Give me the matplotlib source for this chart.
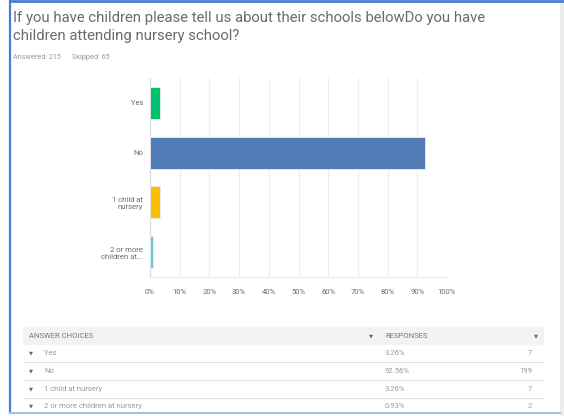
import matplotlib
matplotlib.use("Agg")
import matplotlib.pyplot as plt
from matplotlib.patches import Rectangle
from matplotlib.lines import Line2D

# data
choices = ["Yes", "No", "1 child at\nnursery", "2 or more\nchildren at..."]
full_choices = ["Yes", "No", "1 child at nursery", "2 or more children at nursery"]
percents = [3.26, 92.56, 3.26, 0.93]
counts = [7, 199, 7, 2]
bar_colors = ["#00bf6f", "#507cb6", "#f9be00", "#6bc8cd"]
xticks = [0, 10, 20, 30, 40, 50, 60, 70, 80, 90, 100]
answered = 215
skipped = 65

W, H = 564, 416
plt.rcParams['font.family'] = ['Roboto', 'DejaVu Sans']
fig = plt.figure(figsize=(W / 100, H / 100), dpi=100)
fig.patch.set_facecolor("white")

def px(x, y):
    # pixel coords (top-left origin) to figure fraction
    return x / W, 1 - y / H

txt_gray = "#6b6b6b"
light = "#9a9a9a"
small = 5.5

# frame
fig.add_artist(Line2D([10 / W, 10 / W], [1 - 413 / H, 1], color="#4a7bd0", lw=1.6, transform=fig.transFigure))
fig.add_artist(Line2D([10 / W, 1], [1 - 1 / H, 1 - 1 / H], color="#4a7bd0", lw=2.0, transform=fig.transFigure))
fig.add_artist(Line2D([10 / W, 560 / W], [1 - 413 / H, 1 - 413 / H], color="#a9bfe6", lw=1.5, transform=fig.transFigure))
fig.add_artist(Rectangle((560 / W, 0), 4 / W, 1, color="#ececec", transform=fig.transFigure))

# title
fig.text(*px(13, 22), "If you have children please tell us about their schools belowDo you have",
         fontsize=10.7, color=txt_gray, va="baseline")
fig.text(*px(13, 40), "children attending nursery school?", fontsize=10.7, color=txt_gray, va="baseline")
fig.text(*px(13, 59), f"Answered: {answered}", fontsize=5.2, color=light, va="baseline")
fig.text(*px(72, 59), f"Skipped: {skipped}", fontsize=5.2, color=light, va="baseline")

# bar chart
ax = fig.add_axes([150 / W, 1 - 277 / H, 297 / W, 199 / H])
ypos = list(range(len(choices)))
ax.barh(ypos, percents, height=0.64, color=bar_colors, edgecolor="#e8eef8", linewidth=0.6, zorder=3)
ax.set_xlim(0, 100)
ax.set_ylim(len(choices) - 0.5, -0.5)
ax.set_xticks(xticks)
ax.set_xticklabels([f"{t}%" for t in xticks])
ax.set_yticks(ypos)
ax.set_yticklabels(choices)
ax.grid(axis="x", color="#ececec", lw=0.8, zorder=0)
for s in ["top", "right"]:
    ax.spines[s].set_visible(False)
ax.spines["left"].set_color("#d9d9d9")
ax.spines["bottom"].set_color("#ececec")
ax.tick_params(length=0, labelsize=small, labelcolor=txt_gray, pad=5)
ax.tick_params(axis="x", pad=9)

# table
tx0, tx1 = 23, 543
fig.add_artist(Rectangle(px(tx0, 344), (377 - tx0) / W, 17 / H, color="#f3f3f3", transform=fig.transFigure))
fig.add_artist(Rectangle(px(378, 344), (tx1 - 378) / W, 17 / H, color="#f3f3f3", transform=fig.transFigure))
fig.text(*px(29, 336), "ANSWER CHOICES", fontsize=small, color="#777777", va="center")
fig.text(*px(385, 336), "RESPONSES", fontsize=small, color="#777777", va="center")
for xx in [371, 536]:
    fig.text(*px(xx, 336), "▼", fontsize=3.8, color="#666666", va="center", ha="center", family="DejaVu Sans")

row_y = [353, 371, 389, 406]
for i, (lab, p, c) in enumerate(zip(full_choices, percents, counts)):
    y = row_y[i]
    fig.text(*px(31, y), "▼", fontsize=3.8, color="#666666", va="center", ha="center", family="DejaVu Sans")
    fig.text(*px(44, y), lab, fontsize=small, color=light, va="center")
    fig.text(*px(385, y), f"{p:.2f}%", fontsize=small, color=light, va="center")
    fig.text(*px(532, y), str(c), fontsize=small, color=light, va="center", ha="right")
    if i < len(full_choices) - 1:
        ly = 1 - (y + 9) / H
        fig.add_artist(Line2D([tx0 / W, tx1 / W], [ly, ly], color="#e2e2e2", lw=0.8, transform=fig.transFigure))

fig.savefig("out.png", dpi=100)
